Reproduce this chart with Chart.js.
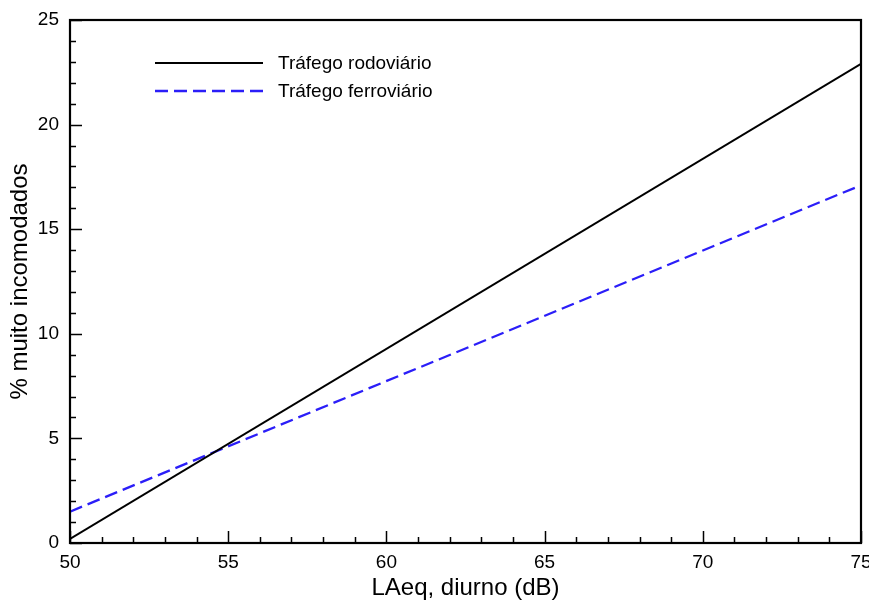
<!DOCTYPE html>
<html>
<head>
<meta charset="utf-8">
<script src="https://cdn.jsdelivr.net/npm/chart.js@4"></script>
<style>
  html, body { margin: 0; padding: 0; background: #fff; }
  #wrap { width: 869px; height: 602px; }
</style>
</head>
<body>
<div id="wrap"><canvas id="chart" width="869" height="602"></canvas></div>
<script>
// values
const laeq = [50, 75];
const rodoviario = [0.2, 22.9];
const ferroviario = [1.5, 17.1];
const seriesNames = ['Tráfego rodoviário', 'Tráfego ferroviário'];

const FONT = '"Liberation Sans", Arial, Helvetica, sans-serif';
const BLUE = '#2b1ef8';

// frame + inward tick marks (major every 5, minor every 1)
const framePlugin = {
    id: 'frame',
    afterDraw(chart) {
        const { ctx, chartArea: a, scales } = chart;
        const x = scales.x, y = scales.y;
        ctx.save();
        ctx.strokeStyle = '#000';
        ctx.lineWidth = 1.5;
        ctx.beginPath();
        for (let v = x.min; v <= x.max; v++) {
            const px = Math.round(x.getPixelForValue(v)) + 0.5;
            const len = v % 5 === 0 ? 12 : 6;
            ctx.moveTo(px, a.bottom);
            ctx.lineTo(px, a.bottom - len);
        }
        for (let v = y.min; v <= y.max; v++) {
            const py = Math.round(y.getPixelForValue(v)) + 0.5;
            const len = v % 5 === 0 ? 12 : 6;
            ctx.moveTo(a.left, py);
            ctx.lineTo(a.left + len, py);
        }
        ctx.stroke();
        ctx.lineWidth = 2.2;
        ctx.strokeRect(a.left, a.top, a.right - a.left, a.bottom - a.top);
        ctx.restore();
    }
};

// legend drawn inside the plot, top left
const legendPlugin = {
    id: 'innerLegend',
    afterDraw(chart) {
        const { ctx } = chart;
        ctx.save();
        ctx.font = '19px ' + FONT;
        ctx.textBaseline = 'middle';
        chart.data.datasets.forEach((ds, i) => {
            const yy = 63 + i * 28;
            ctx.strokeStyle = ds.borderColor;
            ctx.lineWidth = ds.borderWidth;
            ctx.setLineDash(ds.borderDash || []);
            ctx.beginPath();
            ctx.moveTo(155, yy);
            ctx.lineTo(263, yy);
            ctx.stroke();
            ctx.setLineDash([]);
            ctx.fillStyle = '#000';
            ctx.fillText(ds.label, 278, yy + 1);
        });
        ctx.restore();
    }
};

const ctx = document.getElementById('chart').getContext('2d');
new Chart(ctx, {
    type: 'line',
    data: {
        datasets: [
            { label: seriesNames[0], data: laeq.map((v, i) => ({ x: v, y: rodoviario[i] })), borderColor: '#000', borderWidth: 2, pointRadius: 0, fill: false },
            { label: seriesNames[1], data: laeq.map((v, i) => ({ x: v, y: ferroviario[i] })), borderColor: BLUE, borderWidth: 2.3, borderDash: [13, 6], pointRadius: 0, fill: false }
        ]
    },
    options: {
        responsive: false,
        animation: false,
        layout: { padding: { top: 20, right: 8, left: 0, bottom: 0 } },
        plugins: { legend: { display: false }, tooltip: { enabled: false } },
        scales: {
            x: {
                type: 'linear', min: 50, max: 75,
                grid: { display: false, drawTicks: false },
                border: { display: false },
                ticks: { stepSize: 5, padding: 8, color: '#000', font: { family: FONT, size: 19 } },
                title: { display: true, text: 'LAeq, diurno (dB)', color: '#000', font: { family: FONT, size: 24, lineHeight: 1.1 }, padding: { top: 0, bottom: 0 } },
                afterFit(scale) { scale.height = 59; scale.paddingLeft = 0; scale.paddingRight = 0; }
            },
            y: {
                type: 'linear', min: 0, max: 25,
                grid: { display: false, drawTicks: false },
                border: { display: false },
                ticks: { stepSize: 5, padding: 11, color: '#000', font: { family: FONT, size: 19 } },
                title: { display: true, text: '% muito incomodados', color: '#000', font: { family: FONT, size: 24, lineHeight: 1.1 }, padding: { top: 7, bottom: 0 } },
                afterFit(scale) { scale.width = 70; scale.paddingTop = 0; scale.paddingBottom = 0; }
            }
        }
    },
    plugins: [framePlugin, legendPlugin]
});
</script>
</body>
</html>
